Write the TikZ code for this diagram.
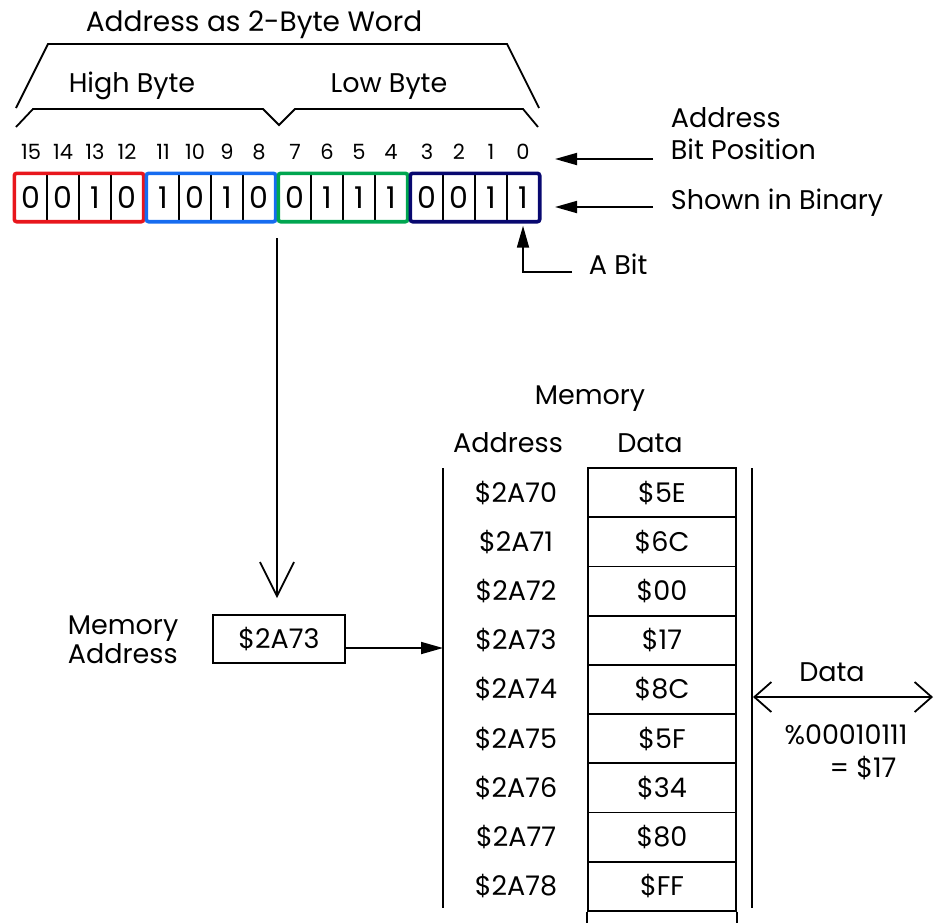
\documentclass[tikz,border=0pt]{standalone}
\usepackage{fontspec}
\setmainfont{Poppins}
\usepackage{tikz}
\usetikzlibrary{positioning,arrows.meta,calc,fit}

\definecolor{grpRed}{RGB}{232,22,28}
\definecolor{grpBlue}{RGB}{22,108,240}
\definecolor{grpGreen}{RGB}{0,166,80}
\definecolor{grpNavy}{RGB}{8,8,112}
\newcommand{\fsz}[1]{\fontsize{#1}{#1}\selectfont}

\begin{document}
\begin{tikzpicture}[x=0.5pt,y=-0.5pt,line width=0.9pt,
  lbl/.style={font=\fsz{13.5}, inner sep=0pt, text height=9.5pt, text depth=0pt},
  ttl/.style={font=\fsz{14}, inner sep=0pt, text height=9.8pt, text depth=0pt},
  bitnum/.style={font=\fsz{10.5}, inner sep=0pt, text height=7.4pt, text depth=0pt},
  bitcell/.style={draw, line width=0.7pt, minimum width=16pt, minimum height=23.5pt,
    inner sep=0pt, font=\fsz{15}, text height=10.5pt, text depth=0pt},
  grpframe/.style={line width=1.8pt, rounded corners=1.2pt, inner sep=0pt},
  datacell/.style={lbl, draw, line width=0.9pt, minimum width=74pt, minimum height=24.6pt},
  solidarr/.style={-{Triangle[length=11pt,width=6pt]}},
  openarr/.style={-{Straight Barb[length=17pt,width=17pt]}}]
\useasboundingbox (0,0) rectangle (935,922);

% Word and byte braces
\node[ttl] (title) at (254,22) {Address as 2-Byte Word};
\draw (16,108) -- (48,44) -- (507,44) -- (539,108);
\node[lbl] (high) at (132,83) {High Byte};
\node[lbl] (low) at (389,83) {Low Byte};
\draw (16,127) -- (33,109) -- (263,109) -- (279,125) -- (295,109) -- (523,109) -- (538,127);

% Bits and bit numbers
\foreach \v [count=\i from 0] in {0,0,1,0,1,0,1,0,0,1,1,1,0,0,1,1} {
  \pgfmathtruncatemacro\b{15-\i}
  \pgfmathsetmacro\xx{31+132*floor(\i/4)+32*mod(\i,4)}
  \node[bitcell] (cell\b) at (\xx,197.5) {\v};
  \node[bitnum] (num\b) at (\xx,152) {\b};
}
\foreach \hi/\lo/\col in {15/12/grpRed,11/8/grpBlue,7/4/grpGreen,3/0/grpNavy}
  \node[grpframe, draw=\col, fit=(cell\hi)(cell\lo)] (grp\hi) {};

% Labels on the right
\node[lbl, anchor=west] (addrlbl) at (670,118) {Address};
\node[lbl, anchor=west] (bitpos) at (670,150) {Bit Position};
\node[lbl, anchor=west] (binary) at (670,200) {Shown in Binary};
\coordinate (bpFrom) at (653,159);
\coordinate (binFrom) at (653,207);
\draw[solidarr] (bpFrom) -- (bpFrom -| 555,0);
\draw[solidarr] (binFrom) -- (binFrom -| 555,0);
\node[lbl, anchor=west] (abit) at (588,265) {A Bit};
\coordinate (abitFrom) at (572,272);
\draw[solidarr, shorten >=2pt] (abitFrom) -| (cell0.south);

% Address to memory
\coordinate (split) at (277,238);
\node[lbl, anchor=west] (memlbl) at (67,625) {Memory};
\node[lbl, anchor=west] (addrlbl2) at (67,654) {Address};
\node[lbl, draw, minimum width=66pt, minimum height=24pt] (memaddr) at (279,639) {\$2A73};
\draw[openarr, shorten >=8pt] (split) -- (split |- memaddr.north);

% Memory table
\node[lbl] (memhead) at (590,395) {Memory};
\node[lbl] (addrhead) at (508,443) {Address};
\node[lbl] (datahead) at (650,443) {Data};
\coordinate (tblL) at (443,468);
\coordinate (tblR) at (752,468);
\draw (tblL) -- ++(0,440);
\draw (tblR) -- ++(0,440);
\foreach \a/\d [count=\r from 0] in {70/5E,71/6C,72/00,73/17,74/8C,75/5F,76/34,77/80,78/FF} {
  \node[datacell] (data\r) at (662,492.6+49.2*\r) {\$\d};
  \node[lbl] (addr\r) at (516,492.6+49.2*\r) {\$2A\a};
}
\draw (data8.south west) -- ++(0,14);
\draw (data8.south east) -- ++(0,14);
\draw[solidarr] ([yshift=-4.5pt]memaddr.east) -- ([yshift=-4.5pt]memaddr.east -| tblL);

% Data word
\coordinate (dataL) at (753,697);
\coordinate (dataR) at (933,697);
\draw[{Straight Barb[length=8.5pt,width=15pt]}-{Straight Barb[length=8.5pt,width=15pt]}] (dataL) -- (dataR);
\node[lbl] (datalbl) at (832,672) {Data};
\node[lbl] (databin) at (846,735) {\%00010111};
\node[lbl] (datahex) at (863,768) {= \$17};
\end{tikzpicture}
\end{document}
